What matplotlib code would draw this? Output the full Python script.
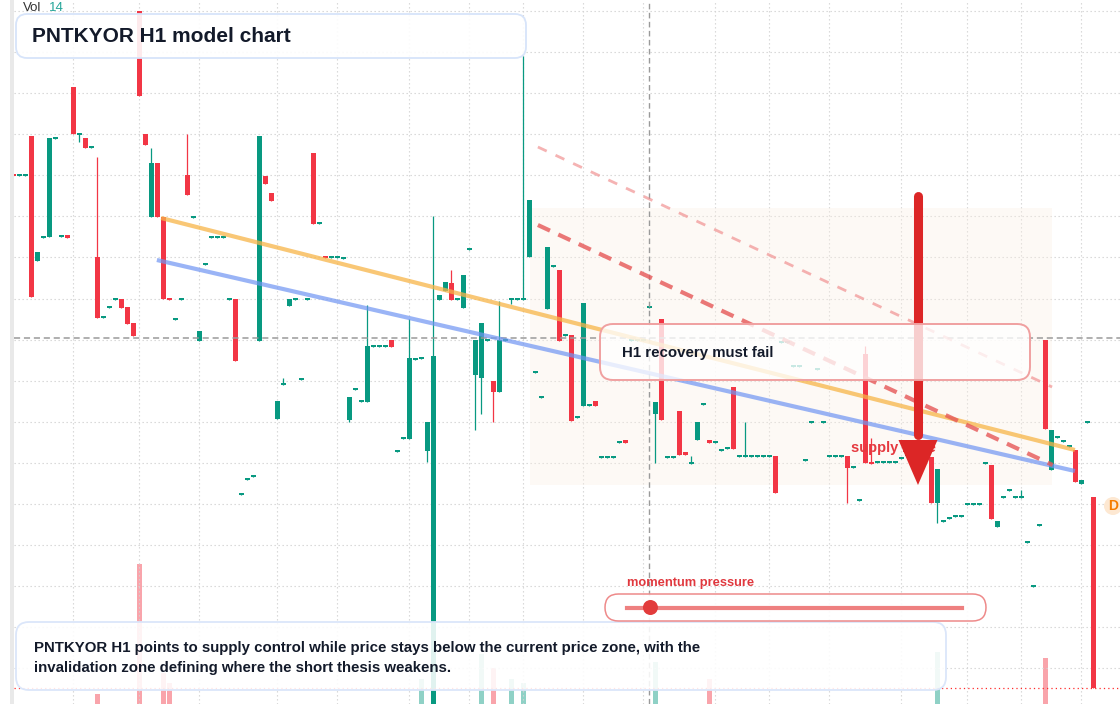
import matplotlib
matplotlib.use("Agg")
import matplotlib.pyplot as plt
from matplotlib.patches import FancyBboxPatch, Rectangle, Polygon, Circle

# ---------------- data ----------------
first_index = -3
opens = [53.0, 52.8, 52.8, 56.8, 44.3, 46.6, 46.7, 56.5, 46.7, 46.9, 61.7, 56.9, 56.6, 55.6,
         44.7, 38.6, 39.6, 40.4, 40.5, 39.7, 38.1, 69.3, 57.0, 48.7, 54.1, 48.7, 40.6, 38.4,
         40.4, 52.9, 48.6, 36.3, 43.9, 46.6, 46.6, 46.6, 40.4, 40.5, 20.9, 22.4, 22.7, 36.3,
         52.8, 51.1, 28.5, 31.9, 39.8, 40.4, 32.4, 40.4, 55.1, 48.0, 44.8, 44.6, 44.6, 44.5,
         28.4, 31.4, 30.2, 30.2, 35.7, 35.7, 35.7, 36.4, 25.2, 26.5, 26.5, 34.4, 34.5, 25.3,
         -1.6, 40.4, 41.3, 42.1, 40.4, 39.6, 45.4, 32.9, 32.6, 36.3, 32.3, 31.2, 36.3, 40.4,
         40.4, 40.4, 44.7, 33.1, 30.6, 39.5, 43.7, 43.4, 36.8, 36.9, 28.6, 29.8, 29.8, 30.3,
         24.6, 24.6, 24.6, 26.1, 26.4, 36.3, 36.3, 36.3, 39.6, 29.0, 38.5, 24.6, 24.6, 29.3,
         25.2, 24.0, 26.4, 29.9, 26.4, 26.1, 25.3, 25.5, 31.7, 24.7, 24.7, 24.7, 24.7, 24.7,
         24.7, 24.8, 36.1, 36.1, 33.7, 33.7, 24.3, 28.1, 33.4, 28.1, 24.7, 24.7, 24.7, 24.8,
         23.6, 20.3, 35.0, 24.2, 24.1, 24.1, 24.1, 24.1, 24.5, 24.8, 25.1, 25.5, 25.7, 24.7,
         20.1, 18.2, 18.5, 18.7, 18.7, 19.9, 19.9, 19.9, 24.0, 23.9, 17.7, 20.6, 21.3, 20.6,
         20.6, 16.1, 11.7, 17.8, 36.4, 23.4, 26.6, 26.2, 25.7, 25.4, 22.0, 28.1, 20.7]
highs = [53.0, 53.0, 53.0, 56.8, 45.2, 46.8, 56.6, 56.7, 46.9, 46.9, 61.7, 57.1, 56.6, 55.8,
         54.7, 38.8, 39.8, 40.6, 40.5, 39.7, 38.1, 69.3, 57.0, 55.6, 54.1, 48.7, 40.6, 38.6,
         40.6, 57.0, 48.8, 37.3, 44.1, 46.8, 46.8, 46.8, 40.6, 40.5, 21.1, 22.6, 22.9, 56.8,
         52.8, 51.1, 30.3, 32.6, 40.5, 40.6, 32.6, 40.6, 55.1, 48.2, 44.8, 44.8, 44.8, 44.7,
         30.7, 31.6, 30.4, 39.9, 35.9, 35.9, 35.9, 36.4, 25.4, 26.7, 38.5, 34.6, 34.7, 28.2,
         48.8, 40.9, 42.2, 43.4, 40.6, 42.9, 45.6, 36.4, 38.1, 36.5, 32.3, 40.3, 36.5, 40.6,
         40.6, 64.8, 50.4, 33.3, 30.8, 45.7, 43.9, 43.4, 37.0, 36.9, 28.8, 40.1, 30.0, 30.3,
         24.8, 24.8, 24.8, 26.3, 26.4, 36.5, 36.5, 36.5, 39.8, 30.2, 38.5, 24.8, 24.8, 29.3,
         25.2, 24.8, 28.2, 30.1, 26.4, 26.3, 25.5, 25.7, 31.7, 24.9, 28.2, 24.9, 24.9, 24.9,
         24.9, 24.8, 36.3, 36.3, 33.9, 33.9, 24.5, 28.3, 33.6, 28.3, 24.9, 24.9, 24.9, 24.8,
         23.8, 20.5, 35.8, 26.6, 24.3, 24.3, 24.3, 24.3, 24.7, 25.0, 25.3, 25.7, 25.9, 24.7,
         23.5, 18.4, 18.7, 18.9, 18.9, 20.1, 20.1, 20.1, 24.2, 23.9, 18.3, 20.8, 21.5, 20.8,
         21.4, 16.3, 11.9, 18.0, 36.4, 27.4, 26.8, 26.4, 25.9, 25.4, 22.4, 28.3, 20.7]
lows = [52.8, 52.8, 52.8, 40.7, 44.3, 46.6, 46.7, 56.5, 46.7, 46.6, 57.0, 56.2, 55.6, 55.6,
        38.6, 38.6, 39.6, 40.4, 39.6, 38.0, 36.8, 60.8, 55.9, 48.7, 48.7, 40.5, 40.4, 38.4,
        40.4, 50.9, 48.6, 36.3, 43.9, 46.6, 46.6, 46.6, 40.4, 34.3, 20.9, 22.4, 22.7, 36.3,
        52.0, 50.3, 28.5, 31.9, 39.8, 40.4, 32.4, 40.4, 48.0, 48.0, 44.6, 44.6, 44.6, 44.5,
        28.2, 31.4, 30.2, 30.2, 35.7, 35.7, 35.7, 35.7, 25.2, 26.5, 26.5, 34.4, 34.5, 24.2,
        -1.6, 40.4, 41.3, 40.4, 40.4, 39.6, 45.4, 27.4, 29.0, 36.3, 28.2, 31.2, 36.3, 40.0,
        40.4, 40.4, 44.7, 33.1, 30.6, 39.5, 43.7, 36.3, 36.8, 28.3, 28.6, 29.8, 29.8, 29.8,
        24.6, 24.6, 24.6, 26.1, 26.1, 36.3, 36.3, 36.3, 39.6, 24.1, 28.4, 24.6, 24.6, 24.9,
        24.9, 24.0, 26.4, 29.9, 26.1, 26.1, 25.3, 25.5, 25.5, 24.7, 24.7, 24.7, 24.7, 24.7,
        24.7, 21.1, 36.1, 36.1, 33.7, 33.7, 24.3, 28.1, 33.4, 28.1, 24.7, 24.7, 24.7, 20.1,
        23.6, 20.3, 24.1, 24.0, 24.1, 24.1, 24.1, 24.1, 24.5, 24.8, 25.1, 25.5, 25.7, 20.1,
        18.1, 18.2, 18.5, 18.7, 18.7, 19.9, 19.9, 19.9, 24.0, 18.5, 17.7, 20.6, 21.3, 20.6,
        20.6, 16.1, 11.7, 17.8, 27.5, 23.4, 26.6, 26.2, 25.7, 22.2, 22.0, 28.1, 1.6]
closes = [52.8, 53.0, 53.0, 40.7, 45.2, 46.8, 56.6, 56.7, 46.9, 46.6, 57.0, 57.1, 55.6, 55.8,
          38.6, 38.8, 39.8, 40.6, 39.6, 38.0, 36.8, 60.8, 55.9, 54.1, 48.7, 40.5, 40.4, 38.6,
          40.6, 50.9, 48.8, 37.3, 44.1, 46.8, 46.8, 46.8, 40.6, 34.3, 21.1, 22.6, 22.9, 56.8,
          52.0, 50.3, 30.3, 32.1, 40.5, 40.6, 32.6, 40.6, 48.0, 48.2, 44.6, 44.8, 44.8, 44.7,
          30.7, 31.6, 30.4, 35.8, 35.9, 35.9, 35.9, 35.7, 25.4, 26.7, 34.6, 34.6, 34.7, 28.2,
          34.8, 40.9, 42.2, 40.4, 40.6, 42.9, 45.6, 36.4, 38.1, 36.5, 31.2, 36.4, 36.5, 40.6,
          40.6, 40.6, 50.4, 33.3, 30.8, 45.7, 43.9, 36.3, 37.0, 28.3, 28.8, 40.1, 30.0, 29.8,
          24.8, 24.8, 24.8, 26.3, 26.1, 36.5, 36.5, 36.5, 39.8, 30.2, 28.4, 24.8, 24.8, 24.9,
          24.9, 24.2, 28.2, 30.1, 26.1, 26.3, 25.5, 25.7, 25.5, 24.9, 24.9, 24.9, 24.9, 24.9,
          24.9, 21.1, 36.3, 36.3, 33.9, 33.9, 24.5, 28.3, 33.6, 28.3, 24.9, 24.9, 24.9, 23.6,
          23.8, 20.5, 24.1, 24.0, 24.3, 24.3, 24.3, 24.3, 24.7, 25.0, 25.3, 25.7, 25.9, 20.1,
          23.5, 18.4, 18.7, 18.9, 18.9, 20.1, 20.1, 20.1, 24.2, 18.5, 18.3, 20.8, 21.5, 20.8,
          20.8, 16.3, 11.9, 18.0, 27.5, 27.4, 26.8, 26.4, 25.9, 22.2, 22.4, 28.3, 1.6]

vol_index = [11, 18, 22, 23, 65, 75, 77, 80, 82, 104, 113, 151, 169]
vol_value = [360, 1660, 570, 470, 510, 760, 620, 510, 470, 680, 510, 780, 720]

grid_prices = [69.3, 65.2, 61.1, 57.0, 52.9, 48.8, 44.7, 40.5, 36.4, 32.3, 28.2, 24.1,
               20.0, 15.9, 11.8, 7.7, 3.6]
grid_bars = [7, 18, 28, 41, 51, 63, 73, 82, 92, 102, 114, 123, 133, 145, 156, 165, 175]

last_price = 36.6
cursor_bar = 102.9
invalidation_price = 1.6

orange_x, orange_y = [21.6, 173.9], [48.6, 25.4]
blue_x, blue_y = [20.9, 173.9], [44.4, 23.3]
red_x, red_y = [84.4, 170.2], [47.9, 23.9]
pink_x, pink_y = [84.4, 170.1], [55.7, 31.7]
zone_x, zone_y = [83.1, 170.1], [21.9, 49.6]
arrow_bar, arrow_top, arrow_neck, arrow_tip = 147.75, 50.8, 26.4, 21.9
supply_label_pos = (136.6, 25.6)
momentum_value = 0.07

title = "PNTKYOR H1 model chart"
note = "H1 recovery must fail"
summary = ["PNTKYOR H1 points to supply control while price stays below the current price zone, with the",
           "invalidation zone defining where the short thesis weakens."]

# ---------------- style ----------------
UP = "#089981"
DOWN = "#f23645"
FONT = ["Liberation Sans", "DejaVu Sans"]
plt.rcParams["font.family"] = FONT

W, H = 1120, 704
fig = plt.figure(figsize=(W / 100, H / 100), dpi=100)
fig.patch.set_facecolor("white")
ax = fig.add_axes([0, 0, 1, 1])
ax.set_xlim(-5.25, 181.42)
ax.set_ylim(0, 70.4)
ax.set_axis_off()

vax = fig.add_axes([0, 0, 1, 1], sharex=ax)
vax.set_ylim(260, 7300)
vax.set_axis_off()
vax.patch.set_alpha(0)
vax.set_zorder(ax.get_zorder() - 1)
ax.patch.set_alpha(0)

def pin(x, y):
    return (x / 100.0, (H - y) / 100.0)

# grid
left_edge = -2.92
ax.hlines(grid_prices, left_edge, 181.42, colors="#d3d3d3", linewidth=0.8,
          linestyles=(0, (1.2, 2.4)), zorder=0.2)
ax.vlines(grid_bars, 0, 70.4, colors="#d3d3d3", linewidth=0.8,
          linestyles=(0, (1.2, 2.4)), zorder=0.2)

# supply zone
ax.add_patch(Rectangle((zone_x[0], zone_y[0]), zone_x[1] - zone_x[0], zone_y[1] - zone_y[0],
                       facecolor="#fbefe4", alpha=0.35, edgecolor="none", zorder=0.3))

# volume
vcols = [UP if closes[i - first_index] >= opens[i - first_index] else DOWN for i in vol_index]
vax.bar(vol_index, vol_value, width=0.8, color=vcols, alpha=0.45, linewidth=0, zorder=1)

# candles
xs = list(range(first_index, first_index + len(opens)))
cols = [UP if c >= o else DOWN for o, c in zip(opens, closes)]
ax.vlines(xs, lows, highs, colors=cols, linewidth=0.9, zorder=2)
bottoms = [min(o, c) for o, c in zip(opens, closes)]
heights = [max(abs(c - o), 0.2) for o, c in zip(opens, closes)]
ax.bar(xs, heights, bottom=bottoms, width=0.8, color=cols, linewidth=0, zorder=2.1)

# reference lines
ax.hlines(last_price, left_edge, 181.42, colors="#9a9a9a", linewidth=1.1,
          linestyles=(0, (4, 2.5)), zorder=2.5)
ax.vlines(cursor_bar, 0, 70.4, colors="#9a9a9a", linewidth=1.0,
          linestyles=(0, (4, 2.5)), zorder=2.5)
ax.hlines(invalidation_price, left_edge, 181.42, colors="#ff2a2a", linewidth=0.9,
          linestyles=(0, (1, 2.5)), zorder=2.5)

# trend lines
ax.plot(orange_x, orange_y, color="#f7b548", lw=3.0, alpha=0.75, solid_capstyle="butt", zorder=3)
ax.plot(blue_x, blue_y, color="#6f95f3", lw=3.0, alpha=0.7, solid_capstyle="butt", zorder=3)
ax.plot(red_x, red_y, color="#e65757", lw=3.0, alpha=0.8, linestyle=(0, (3.2, 2.2)), zorder=3)
ax.plot(pink_x, pink_y, color="#f08a8a", lw=2.0, alpha=0.65, linestyle=(0, (3.5, 3.5)), zorder=3)

# supply zone label + arrow
ax.text(supply_label_pos[0], supply_label_pos[1], "supply zone", color="#e5393f", fontsize=10.5,
        fontweight="bold", ha="left", va="center", zorder=3.5)
ax.plot([arrow_bar, arrow_bar], [arrow_top, arrow_neck + 0.5], color="#dc2626", lw=6.5,
        solid_capstyle="round", zorder=4)
ax.add_patch(Polygon([(arrow_bar - 3.25, arrow_neck), (arrow_bar + 3.25, arrow_neck),
                      (arrow_bar, arrow_tip)], closed=True, facecolor="#dc2626",
                     edgecolor="none", zorder=4))

# left strip
fig.add_artist(Rectangle((0, 0), 10 / W, 1, transform=fig.transFigure, facecolor="white",
                         edgecolor="none", zorder=10))
fig.add_artist(Rectangle((10 / W, 0), 4 / W, 1, transform=fig.transFigure, facecolor="#e9e9e9",
                         edgecolor="none", zorder=10))

# boxes
def rbox(x0, y0, x1, y1, edge, alpha, r, lw=1.3, z=11):
    p = FancyBboxPatch(pin(x0, y1), (x1 - x0) / 100, (y1 - y0) / 100,
                       boxstyle="round,pad=0,rounding_size=%f" % (r / 100),
                       transform=fig.dpi_scale_trans, facecolor=(1, 1, 1, alpha),
                       edgecolor=edge, linewidth=lw, zorder=z)
    fig.add_artist(p)

rbox(16, 14, 526, 58, "#d7e4fa", 0.9, 11)
fig.text(32 / W, 1 - 36 / H, title, fontsize=15, fontweight="bold", color="#131a2a",
         ha="left", va="center", zorder=12)

rbox(600, 324, 1030, 380, "#f0a0a0", 0.78, 13, lw=1.4)
fig.text(622 / W, 1 - 353 / H, note, fontsize=10.8, fontweight="bold", color="#131a2a",
         ha="left", va="center", zorder=12)

rbox(16, 622, 946, 690, "#dbe6fa", 0.88, 13)
fig.text(34 / W, 1 - 648 / H, summary[0], fontsize=10.8, fontweight="bold", color="#131a2a",
         ha="left", va="center", zorder=12)
fig.text(34 / W, 1 - 668 / H, summary[1], fontsize=10.8, fontweight="bold", color="#131a2a",
         ha="left", va="center", zorder=12)

# momentum gauge
fig.text(627 / W, 1 - 583 / H, "momentum pressure", fontsize=9.3, fontweight="bold",
         color="#e0383e", ha="left", va="center", zorder=12)
rbox(605, 594, 986, 621, "#ee8a8a", 0.9, 13.5, lw=1.1)
t0, t1 = 627, 962
fig.add_artist(plt.Line2D([t0 / W, t1 / W], [1 - 607.5 / H, 1 - 607.5 / H],
                          transform=fig.transFigure, color="#ee8080", lw=3.0, zorder=12))
dot_x = t0 + momentum_value * (t1 - t0)
fig.add_artist(Circle(pin(dot_x, 607.5), 7.5 / 100, transform=fig.dpi_scale_trans,
                      facecolor="#e23b3b", edgecolor="none", zorder=13))

# D badge
fig.add_artist(Circle(pin(1113, 506), 9 / 100, transform=fig.dpi_scale_trans,
                      facecolor="#fde8d2", edgecolor="none", zorder=12))
fig.text(1113 / W, 1 - 506 / H, "D", fontsize=10, fontweight="bold", color="#f57c00",
         ha="center", va="center", zorder=13)

# Vol legend
fig.text(23 / W, 1 - 8 / H, "Vol", fontsize=9.5, color="#333333", ha="left", va="center", zorder=12)
fig.text(49 / W, 1 - 8 / H, "14", fontsize=9.5, color="#26a69a", ha="left", va="center", zorder=12)

fig.savefig("out.png", dpi=100)
